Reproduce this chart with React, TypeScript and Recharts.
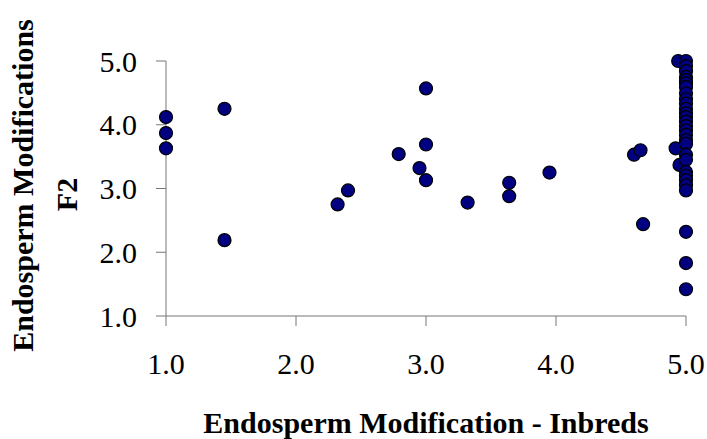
import { ScatterChart, Scatter, XAxis, YAxis } from 'recharts'

// inbred score (x) vs F2 score (y)
const inbredScores = [
  1.0, 1.0, 1.0, 1.45, 1.45,
  2.32, 2.4, 2.79, 2.95, 3.0, 3.0, 3.0,
  3.32, 3.64, 3.64, 3.95, 4.6, 4.65, 4.67,
  4.94, 4.92, 4.95,
  5.0, 5.0, 5.0, 5.0, 5.0, 5.0, 5.0, 5.0, 5.0, 5.0, 5.0, 5.0, 5.0, 5.0,
  5.0, 5.0, 5.0, 5.0, 5.0, 5.0, 5.0, 5.0, 5.0, 5.0, 5.0, 5.0, 5.0, 5.0, 5.0,
]
const f2Scores = [
  4.12, 3.87, 3.63, 4.25, 2.19,
  2.75, 2.97, 3.54, 3.32, 4.57, 3.69, 3.13,
  2.78, 3.09, 2.88, 3.25, 3.53, 3.6, 2.44,
  5.0, 3.63, 3.37,
  5.0, 4.92, 4.84, 4.75, 4.7, 4.65, 4.59, 4.49, 4.4, 4.33, 4.25, 4.18, 4.12, 4.05,
  3.98, 3.91, 3.84, 3.76, 3.7, 3.53, 3.45, 3.26, 3.2, 3.13, 3.05, 2.97, 2.32, 1.83, 1.42,
]
const xTicks = [1, 2, 3, 4, 5]
const yTicks = [1, 2, 3, 4, 5]

const points = inbredScores.map((x, i) => ({ x, y: f2Scores[i] }))

const font = '"Liberation Serif", "Times New Roman", serif'

const Dot = (props: any) => (
  <circle cx={props.cx} cy={props.cy} r={6.5} fill="#000080" stroke="#000" strokeWidth={1.2} />
)

const YTitle = (props: any) => {
  const vb = props.viewBox || { y: 61, height: 255 }
  const cy = vb.y + vb.height / 2
  return (
    <g fontFamily={font} fontWeight="bold" fontSize={30} fill="#000">
      <text transform={`translate(33, ${cy - 3}) rotate(-90)`} textAnchor="middle">
        Endosperm Modifications
      </text>
      <text transform={`translate(77, ${cy + 6}) rotate(-90)`} textAnchor="middle">
        F2
      </text>
    </g>
  )
}

export default function App() {
  return (
    <div style={{ position: 'absolute', left: 0, top: 0, background: '#fff' }}>
      <ScatterChart width={707} height={439} margin={{ top: 61, right: 21, left: 0, bottom: 0 }}>
        <XAxis
          type="number"
          dataKey="x"
          domain={[1, 5]}
          ticks={xTicks}
          tickFormatter={(v: number) => v.toFixed(1)}
          height={123}
          stroke="#777"
          tickSize={10}
          tickMargin={27}
          tick={{ fill: '#000', fontSize: 30, fontFamily: font }}
          label={{
            value: 'Endosperm Modification - Inbreds',
            position: 'insideBottom',
            offset: 6,
            fill: '#000',
            fontSize: 30,
            fontWeight: 'bold',
            fontFamily: font,
          }}
        />
        <YAxis
          type="number"
          dataKey="y"
          domain={[1, 5]}
          ticks={yTicks}
          tickFormatter={(v: number) => v.toFixed(1)}
          width={166}
          stroke="#777"
          tickSize={10}
          tickMargin={19}
          tick={{ fill: '#000', fontSize: 30, fontFamily: font }}
          label={<YTitle />}
        />
        <Scatter data={points} shape={Dot} isAnimationActive={false} />
      </ScatterChart>
    </div>
  )
}
